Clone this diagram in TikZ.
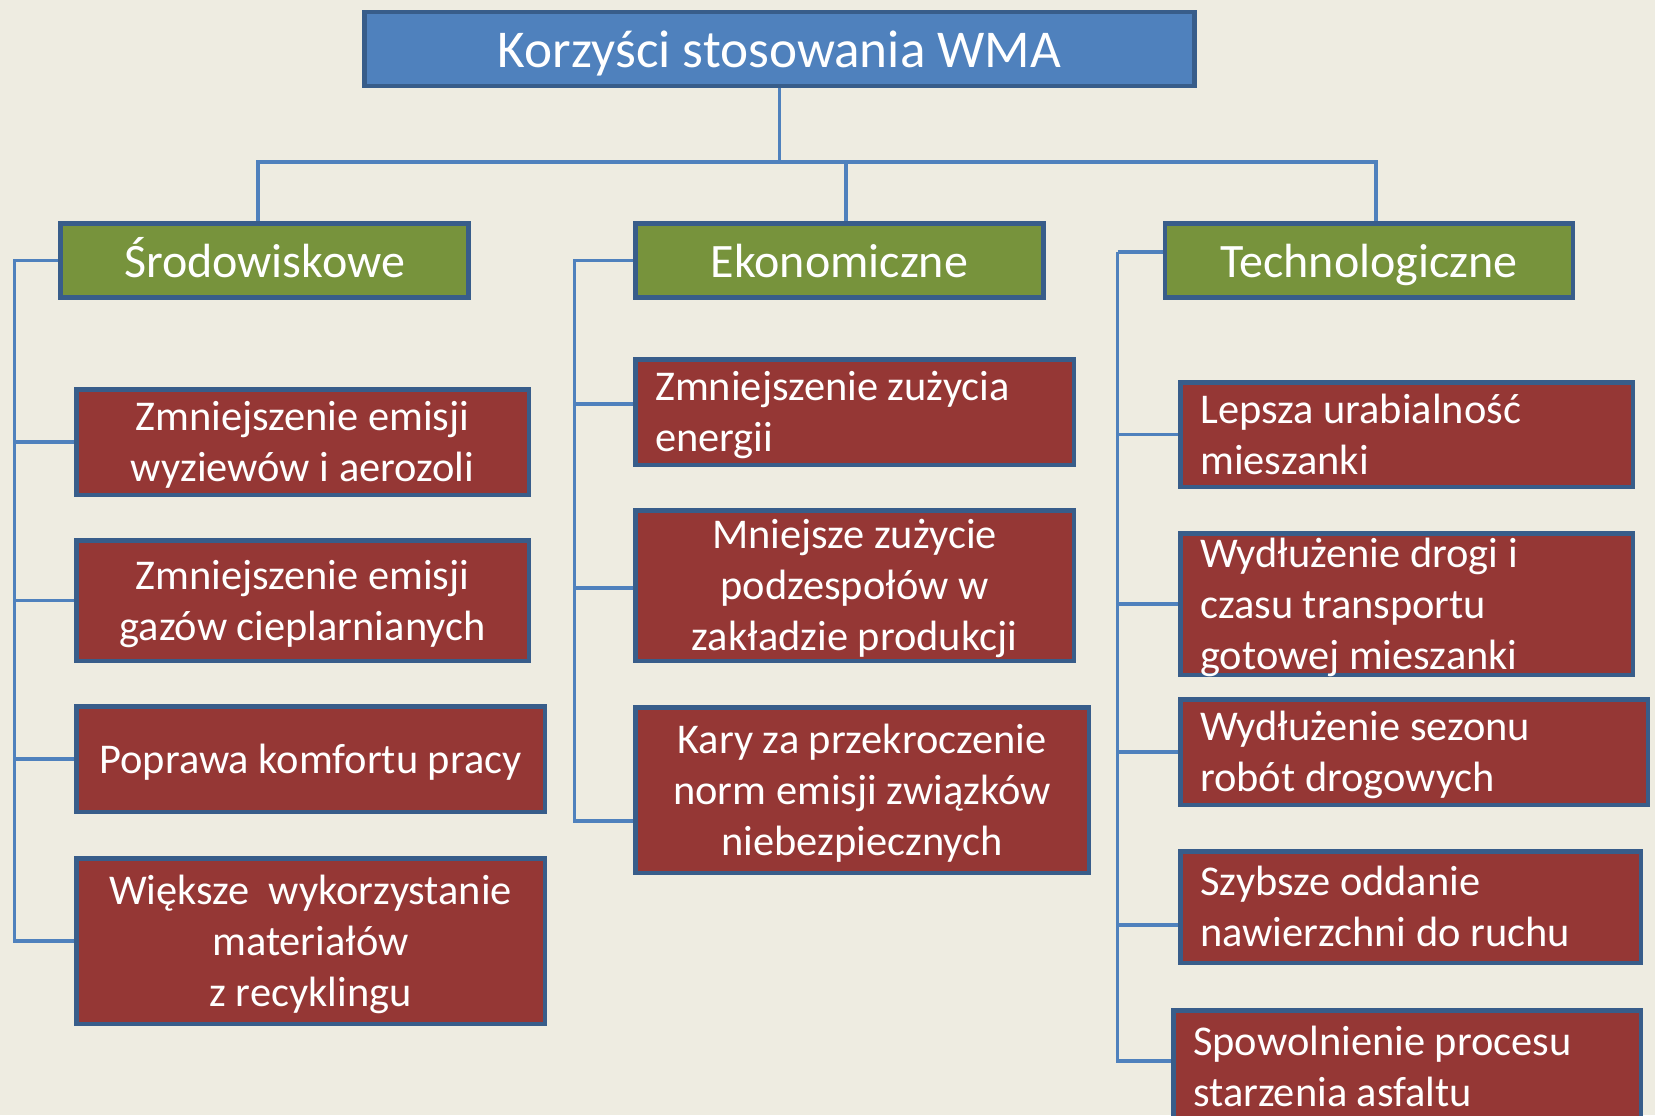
\documentclass[tikz,border=0pt]{standalone}
\usepackage{fontspec}
\setmainfont{Carlito}
\usetikzlibrary{backgrounds}

\definecolor{bgpaper}{HTML}{EEECE1}
\definecolor{wmablue}{HTML}{4F81BD}
\definecolor{wmaframe}{HTML}{385D8A}
\definecolor{wmagreen}{HTML}{77933C}
\definecolor{wmared}{HTML}{953735}

\tikzset{
  wmabox/.style={draw=wmaframe, line width=2.25pt, text=white, inner xsep=10pt, inner ysep=-8pt},
  titlebox/.style={wmabox, fill=wmablue, font=\fontsize{26.6}{32}\selectfont, text height=21pt, text depth=3pt},
  groupbox/.style={wmabox, fill=wmagreen, font=\fontsize{24}{28}\selectfont, minimum width=204pt, minimum height=37pt, text height=20pt, text depth=3.5pt},
  itembox/.style={wmabox, fill=wmared, font=\fontsize{21.2}{25.5}\selectfont, inner xsep=0pt, align=center, text width=#1,
    execute at begin node={\spaceskip=4.8pt\relax\rule{0pt}{20pt}}, execute at end node=\rule[-6pt]{0pt}{0pt}},
  flushbox/.style={itembox=#1, inner xsep=10pt, align=flush left},
  conn/.style={draw=wmablue, line width=1.6pt}
}

\begin{document}
\begin{tikzpicture}[x=0.5pt,y=-0.5pt]
\useasboundingbox (0,0) rectangle (1655,1115);

\node[titlebox, minimum width=415pt, minimum height=37pt] (title) at (779.5,49) {Korzyści stosowania WMA};

\node[groupbox] (sro) at (264.5,260.5) {Środowiskowe};
\node[groupbox] (eko) at (839.5,260.5) {Ekonomiczne};
\node[groupbox] (tech) at (1369,260.5) {Technologiczne};

\node[itembox=226.25pt, minimum height=52.75pt] (s1) at (302.5,442) {Zmniejszenie emisji\\wyziewów i aerozoli};
\node[itembox=226.25pt, minimum height=60.25pt] (s2) at (302.5,600.5) {Zmniejszenie emisji\\gazów cieplarnianych};
\node[itembox=234.25pt, minimum height=52.75pt] (s3) at (310.5,759) {Poprawa komfortu pracy};
\node[itembox=234.25pt, minimum height=82.75pt] (s4) at (310.5,941) {Większe~ wykorzystanie\\materiałów\\z recyklingu};

\node[flushbox=199.25pt, minimum height=52.75pt] (m1) at (854.5,412) {Zmniejszenie zużycia\\energii};
\node[itembox=219.25pt, minimum height=75.25pt] (m2) at (854.5,585.5) {Mniejsze zużycie\\podzespołów w\\zakładzie produkcji};
\node[itembox=226.75pt, minimum height=82.75pt] (m3) at (862,790) {Kary za przekroczenie\\norm emisji związków\\niebezpiecznych};

\node[flushbox=206.25pt, minimum height=52.25pt] (t1) at (1406.5,434.5) {Lepsza urabialność\\mieszanki};
\node[flushbox=206.25pt, minimum height=70.75pt] (t2) at (1406.5,604) {Wydłużenie drogi i\\czasu transportu\\gotowej mieszanki};
\node[flushbox=213.75pt, minimum height=52.75pt] (t3) at (1414,752) {Wydłużenie sezonu\\robót drogowych};
\node[flushbox=210.25pt, minimum height=55.75pt] (t4) at (1410.5,907) {Szybsze oddanie\\nawierzchni do ruchu};
\node[flushbox=213.75pt, minimum height=56.25pt] (t5) at (1407,1066.5) {Spowolnienie procesu\\starzenia asfaltu};

\begin{pgfonlayer}{background}
\fill[bgpaper] (0,0) rectangle (1655,1115);
\coordinate (bus) at (779,162);
\draw[conn] (title.south) -- (title.south |- bus);
\draw[conn] ([xshift=-3.25pt]sro.north) |- (bus) -| ([xshift=3.5pt]tech.north);
\draw[conn] ([xshift=3.25pt]eko.north) -- ([xshift=3.25pt]eko.north |- bus);

\foreach \n in {s1,s2,s3,s4}
  \draw[conn] (sro.west) -- ++(-44,0) |- (\n.west);
\foreach \n/\dy in {m1/4pt,m2/-1.25pt,m3/-15.5pt}
  \draw[conn] (eko.west) -- ++(-59,0) |- ([yshift=\dy]\n.west);
\draw[conn] ([yshift=4.25pt]tech.west) -- ++(-45,0) coordinate (tb);
\foreach \n/\dy in {t1/0pt,t2/0pt,t3/0pt,t4/-9pt,t5/2.75pt}
  \draw[conn] (tb) |- ([yshift=\dy]\n.west);
\end{pgfonlayer}

\end{tikzpicture}
\end{document}
